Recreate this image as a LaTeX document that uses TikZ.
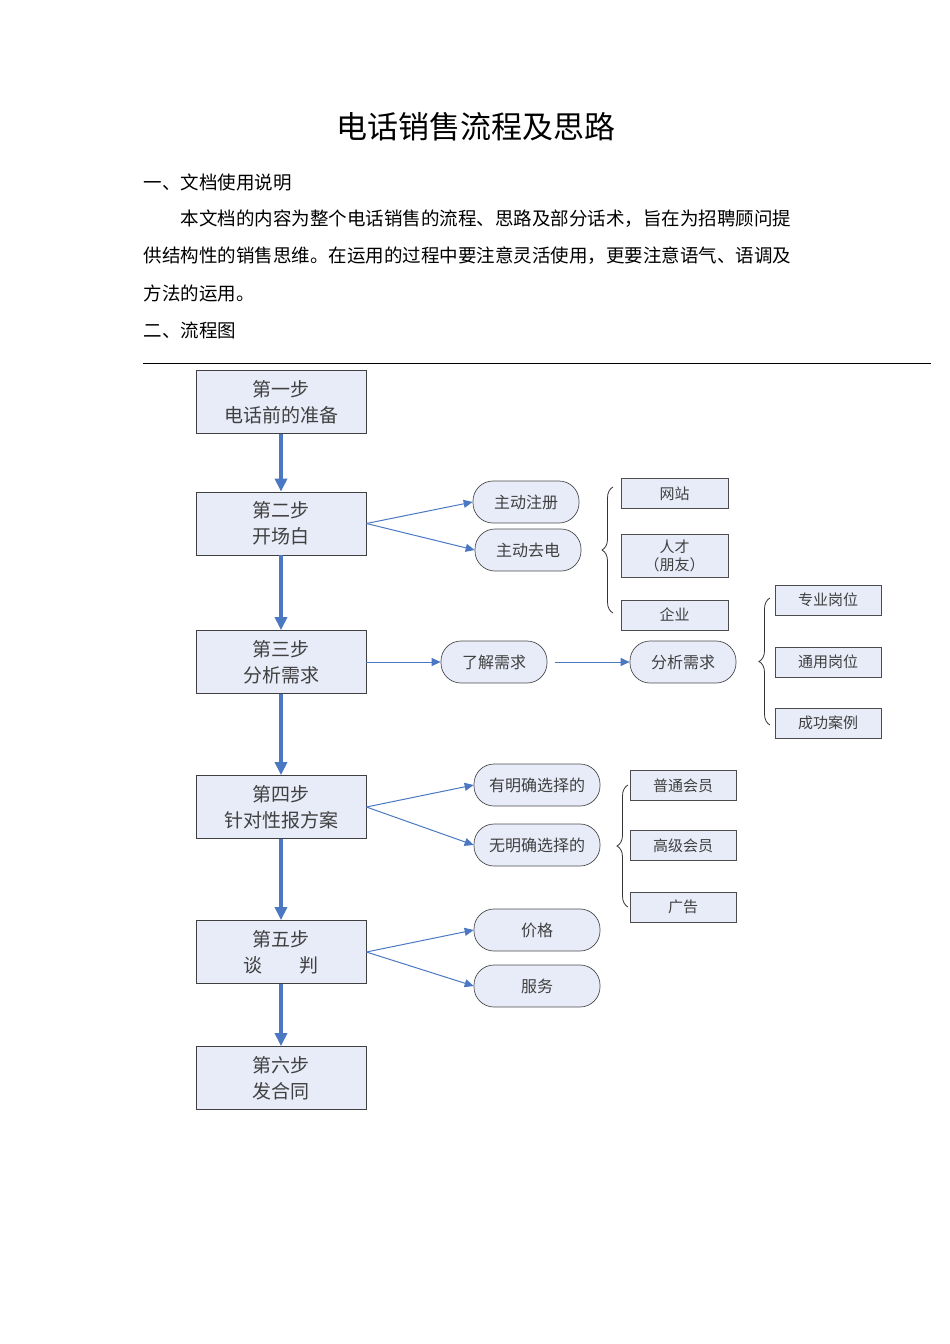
\documentclass[tikz,border=0pt]{standalone}
\usepackage{fontspec}
\setmainfont{Noto Sans CJK SC}
\usetikzlibrary{arrows.meta,decorations.pathreplacing}
\definecolor{boxfill}{HTML}{E8ECF8}
\definecolor{arr}{HTML}{4A78C2}
\begin{document}
\begin{tikzpicture}[x=1pt,y=-1pt,
  mainbox/.style={draw=black!75,fill=boxfill,minimum width=170pt,minimum height=63pt,align=center,font=\fontsize{19}{26}\selectfont,text=black!75,line width=0.8pt},
  pill/.style={draw=black!70,fill=boxfill,rounded corners=20pt,minimum width=106pt,minimum height=42pt,font=\fontsize{16}{20}\selectfont,text=black!75,line width=0.7pt},
  smallbox/.style={draw=black!70,fill=boxfill,minimum width=107pt,minimum height=30pt,align=center,font=\fontsize{15}{19}\selectfont,text=black!75,line width=0.7pt},
  big/.style={-{Triangle[length=13pt,width=12pt]},arr,line width=3.5pt},
  thin/.style={-{Triangle[length=9pt,width=8pt]},arr,line width=1pt},
  brace/.style={decorate,decoration={brace,amplitude=11pt},draw=black!80,line width=0.8pt},
  body/.style={anchor=west,font=\fontsize{18.5}{22}\selectfont}]
\useasboundingbox (0,0) rectangle (950,1344);
\node[font=\fontsize{31}{35}\selectfont] (title) at (476,127) {电话销售流程及思路};
\node[body] (t1) at (140,182) {一、文档使用说明};
\node[body] (t2) at (177,219) {本文档的内容为整个电话销售的流程、思路及部分话术，旨在为招聘顾问提};
\node[body] (t3) at (140,256) {供结构性的销售思维。在运用的过程中要注意灵活使用，更要注意语气、语调及};
\node[body] (t4) at (140,293) {方法的运用。};
\node[body] (t5) at (140,330) {二、流程图};
\coordinate (la) at (143,363); \coordinate (lb) at (931,363);
\draw[line width=0.8pt] (la) -- (lb);
\node[mainbox] (s1) at (281,402) {第一步\\电话前的准备};
\node[mainbox] (s2) at (281,523.5) {第二步\\开场白};
\node[mainbox] (s3) at (281,662) {第三步\\分析需求};
\node[mainbox] (s4) at (281,807) {第四步\\针对性报方案};
\node[mainbox] (s5) at (281,952) {第五步\\谈\hspace{2em}判};
\node[mainbox] (s6) at (281,1078) {第六步\\发合同};
\foreach \a/\b in {s1/s2,s2/s3,s3/s4,s4/s5,s5/s6} \draw[big] (\a) -- (\b);
\node[pill] (p1) at (526,502) {主动注册};
\node[pill] (p2) at (528,550) {主动去电};
\node[pill] (p3) at (494,662) {了解需求};
\node[pill] (p4) at (683,662) {分析需求};
\node[pill,minimum width=126pt] (p5) at (537,785) {有明确选择的};
\node[pill,minimum width=126pt] (p6) at (537,845) {无明确选择的};
\node[pill,minimum width=126pt] (p7) at (537,930) {价格};
\node[pill,minimum width=126pt] (p8) at (537,986) {服务};
\draw[thin] (s2.east) -- (p1.west);
\draw[thin] (s2.east) -- (p2.west);
\draw[thin] (s3.east) -- (p3.west);
\draw[thin] ([xshift=8pt]p3.east) -- (p4.west);
\draw[thin] (s4.east) -- (p5.west);
\draw[thin] (s4.east) -- (p6.west);
\draw[thin] (s5.east) -- (p7.west);
\draw[thin] (s5.east) -- (p8.west);
\node[smallbox] (b1) at (674.5,493.5) {网站};
\node[smallbox,minimum height=43pt,font=\fontsize{15}{18}\selectfont] (b2) at (674.5,555.5) {人才\\（朋友）};
\node[smallbox] (b3) at (674.5,615) {企业};
\node[smallbox,minimum width=106pt] (c1) at (828,600) {专业岗位};
\node[smallbox,minimum width=106pt] (c2) at (828,662) {通用岗位};
\node[smallbox,minimum width=106pt] (c3) at (828,723) {成功案例};
\node[smallbox,minimum width=106pt] (d1) at (683,785.5) {普通会员};
\node[smallbox,minimum width=106pt] (d2) at (683,845.5) {高级会员};
\node[smallbox,minimum width=106pt] (d3) at (683,907) {广告};
\coordinate (ba1) at (613,487); \coordinate (ba2) at (613,613);
\draw[brace] (ba2) -- (ba1);
\coordinate (bb1) at (770,598); \coordinate (bb2) at (770,725);
\draw[brace] (bb2) -- (bb1);
\coordinate (bc1) at (628,785); \coordinate (bc2) at (628,907);
\draw[brace] (bc2) -- (bc1);
\end{tikzpicture}
\end{document}
